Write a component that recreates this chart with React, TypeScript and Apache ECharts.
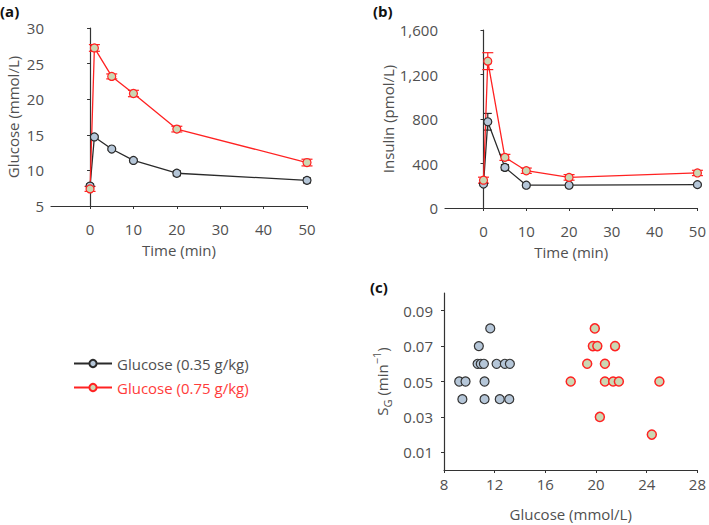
import React, { useEffect, useRef } from "react";
import * as echarts from "echarts";

const times = [0, 1, 5, 10, 20, 50];
const glucoseLow = [7.8, 14.7, 13.0, 11.4, 9.6, 8.6];
const glucoseLowErr = [0.3, 0.2, 0.2, 0.2, 0.35, 0.35];
const glucoseHigh = [7.4, 27.2, 23.2, 20.8, 15.8, 11.1];
const glucoseHighErr = [0.35, 0.47, 0.35, 0.45, 0.4, 0.47];
const insulinLow = [215, 775, 365, 205, 205, 210];
const insulinLowErr = [15, 75, 25, 10, 10, 10];
const insulinHigh = [250, 1320, 455, 335, 275, 315];
const insulinHighErr = [27, 76, 27, 24, 25, 24];

const sgLowX = [9.2, 9.7, 11.2, 9.45, 11.2, 12.4, 13.15, 10.75, 11.65, 10.65, 10.9, 11.15, 12.15, 12.8, 13.2];
const sgLowY = [0.05, 0.05, 0.05, 0.04, 0.04, 0.04, 0.04, 0.07, 0.08, 0.06, 0.06, 0.06, 0.06, 0.06, 0.06];
const sgHighX = [18.0, 19.9, 19.75, 20.1, 21.5, 19.3, 20.7, 20.7, 21.35, 21.8, 25.0, 20.3, 24.4];
const sgHighY = [0.05, 0.08, 0.07, 0.07, 0.07, 0.06, 0.06, 0.05, 0.05, 0.05, 0.05, 0.03, 0.02];

const timeTicks = [0, 10, 20, 30, 40, 50];
const sgTicks = [0.01, 0.03, 0.05, 0.07, 0.09];

const LOW_NAME = "Glucose (0.35 g/kg)";
const HIGH_NAME = "Glucose (0.75 g/kg)";

const FONT = "Open Sans";
const TXT = "#505050";
const TS = 15;
const BLACK = "#2a2a2a";
const RED = "#ff2222";
const LOW_FILL = "#b5c6d8";
const HIGH_FILL = "#cbd7b3";

function errSeries(gi: number, mean: number[], err: number[], color: string, hw: number) {
  return {
    type: "custom",
    xAxisIndex: gi,
    yAxisIndex: gi,
    silent: true,
    data: times.map((t, i) => [t, mean[i], err[i]]),
    encode: { x: 0, y: 1 },
    renderItem: (params: any, api: any) => {
      const x = api.value(0);
      const y = api.value(1);
      const e = api.value(2);
      const top = api.coord([x, y + e]);
      const bot = api.coord([x, y - e]);
      const style = { stroke: color, lineWidth: 1.2 };
      return {
        type: "group",
        children: [
          { type: "line", shape: { x1: top[0], y1: top[1], x2: bot[0], y2: bot[1] }, style },
          { type: "line", shape: { x1: top[0] - hw, y1: top[1], x2: top[0] + hw, y2: top[1] }, style },
          { type: "line", shape: { x1: bot[0] - hw, y1: bot[1], x2: bot[0] + hw, y2: bot[1] }, style },
        ],
      };
    },
  };
}

function lineSeries(gi: number, name: string, mean: number[], color: string, fill: string) {
  return {
    type: "line",
    name,
    xAxisIndex: gi,
    yAxisIndex: gi,
    data: times.map((t, i) => [t, mean[i]]),
    symbol: "circle",
    symbolSize: 8,
    lineStyle: { color, width: 1.3 },
    itemStyle: { color: fill, borderColor: color, borderWidth: 1.2 },
  };
}

const axisCommon = {
  axisLine: { show: true, lineStyle: { color: "#333", width: 1.2 } },
  axisTick: { show: true, length: 3, lineStyle: { color: "#333" } },
  splitLine: { show: false },
  nameTextStyle: { color: TXT, fontFamily: FONT, fontSize: TS },
};

function timeAxis(gi: number) {
  return {
    type: "value",
    gridIndex: gi,
    min: -9,
    max: 50,
    name: "Time (min)",
    nameLocation: "middle",
    nameGap: 36,
    ...axisCommon,
    axisTick: { ...axisCommon.axisTick, customValues: timeTicks },
    axisLabel: { customValues: timeTicks, color: TXT, fontFamily: FONT, fontSize: TS, margin: 15 },
  };
}

export default function App() {
  const ref = useRef<HTMLDivElement>(null);
  useEffect(() => {
    if (!ref.current) return;
    const chart = echarts.init(ref.current, null, { renderer: "svg" });
    chart.setOption({
      animation: false,
      grid: [
        { left: 51, top: 28, width: 256, height: 178 },
        { left: 445, top: 30, width: 255, height: 178 },
        { left: 444, top: 293, width: 254, height: 177 },
      ],
      xAxis: [
        timeAxis(0),
        timeAxis(1),
        {
          type: "value",
          gridIndex: 2,
          min: 8,
          max: 28,
          interval: 4,
          name: "Glucose (mmol/L)",
          nameLocation: "middle",
          nameGap: 36,
          ...axisCommon,
          axisLabel: { color: TXT, fontFamily: FONT, fontSize: TS, margin: 6 },
        },
      ],
      yAxis: [
        {
          type: "value",
          gridIndex: 0,
          min: 5,
          max: 30,
          interval: 5,
          name: "Glucose (mmol/L)",
          nameLocation: "middle",
          nameGap: 31,
          ...axisCommon,
          axisLabel: { color: TXT, fontFamily: FONT, fontSize: TS, margin: 7 },
        },
        {
          type: "value",
          gridIndex: 1,
          min: 0,
          max: 1600,
          interval: 400,
          name: "Insulin (pmol/L)",
          nameLocation: "middle",
          nameGap: 44,
          ...axisCommon,
          axisLabel: {
            color: TXT,
            fontFamily: FONT,
            fontSize: TS,
            margin: 7,
            formatter: (v: number) => v.toLocaleString("en-US"),
          },
        },
        {
          type: "value",
          gridIndex: 2,
          min: 0,
          max: 0.1,
          name: "{n|S}{s|G}{n| (min}{p|−1}{n|)}",
          nameLocation: "middle",
          nameGap: 51,
          ...axisCommon,
          nameTextStyle: {
            color: TXT,
            fontFamily: FONT,
            fontSize: TS,
            rich: {
              n: { color: TXT, fontFamily: FONT, fontSize: TS, verticalAlign: "middle", lineHeight: 22 },
              s: { color: TXT, fontFamily: FONT, fontSize: 11, verticalAlign: "bottom", lineHeight: 22 },
              p: { color: TXT, fontFamily: FONT, fontSize: 11, verticalAlign: "top", lineHeight: 22 },
            },
          },
          axisTick: { ...axisCommon.axisTick, customValues: sgTicks },
          axisLabel: {
            customValues: sgTicks,
            color: TXT,
            fontFamily: FONT,
            fontSize: TS,
            margin: 11,
            formatter: (v: number) => v.toFixed(2),
          },
        },
      ],
      legend: {
        left: 68,
        top: 351,
        orient: "vertical",
        itemWidth: 38,
        itemHeight: 9,
        itemGap: 9,
        textStyle: { fontFamily: FONT, fontSize: TS, color: TXT },
        data: [
          { name: LOW_NAME, textStyle: { color: TXT } },
          { name: HIGH_NAME, textStyle: { color: "#ff3b3b" } },
        ],
        selectedMode: false,
      },
      graphic: [
        { type: "text", left: 0, top: 3, style: { text: "(a)", font: `bold 15px ${FONT}`, fill: "#111" } },
        { type: "text", left: 373, top: 3, style: { text: "(b)", font: `bold 15px ${FONT}`, fill: "#111" } },
        { type: "text", left: 370, top: 279, style: { text: "(c)", font: `bold 15px ${FONT}`, fill: "#111" } },
      ],
      series: [
        errSeries(0, glucoseLow, glucoseLowErr, BLACK, 4),
        lineSeries(0, LOW_NAME, glucoseLow, BLACK, LOW_FILL),
        errSeries(0, glucoseHigh, glucoseHighErr, RED, 5.5),
        lineSeries(0, HIGH_NAME, glucoseHigh, RED, HIGH_FILL),
        errSeries(1, insulinLow, insulinLowErr, BLACK, 4),
        lineSeries(1, LOW_NAME, insulinLow, BLACK, LOW_FILL),
        errSeries(1, insulinHigh, insulinHighErr, RED, 5.5),
        lineSeries(1, HIGH_NAME, insulinHigh, RED, HIGH_FILL),
        {
          type: "scatter",
          name: "SG low",
          xAxisIndex: 2,
          yAxisIndex: 2,
          data: sgLowX.map((x, i) => [x, sgLowY[i]]),
          symbolSize: 9,
          itemStyle: { color: LOW_FILL, borderColor: "#333", borderWidth: 1.2, opacity: 1 },
        },
        {
          type: "scatter",
          name: "SG high",
          xAxisIndex: 2,
          yAxisIndex: 2,
          data: sgHighX.map((x, i) => [x, sgHighY[i]]),
          symbolSize: 9,
          itemStyle: { color: HIGH_FILL, borderColor: RED, borderWidth: 1.5, opacity: 1 },
        },
      ],
    });
    return () => chart.dispose();
  }, []);
  return (
    <div
      ref={ref}
      style={{ position: "absolute", left: 0, top: 0, width: 709, height: 525 }}
    />
  );
}
